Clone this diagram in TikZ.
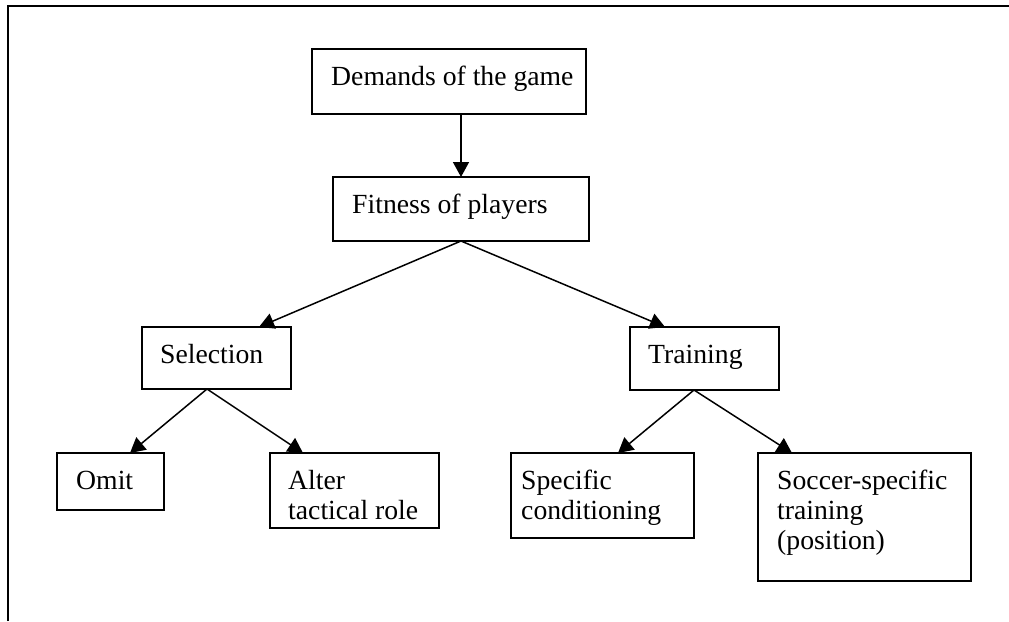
\documentclass[tikz,border=0pt]{standalone}
\usepackage{fontspec}
\setmainfont{Liberation Serif}
\usetikzlibrary{arrows.meta}
\tikzset{
  boxst/.style={draw=black, line width=1.5pt, inner sep=0pt, outer sep=0pt, anchor=north west},
  txt/.style={inner sep=0pt, anchor=base west, font=\fontsize{27.7}{30}\selectfont},
  conn/.style={line width=1.5pt, -{Triangle[length=15pt,width=16pt]}},
  frame/.style={line width=2pt}
}
% box: name, left, top, right, bottom, text x, text
\newcommand{\flowbox}[7]{%
  \node[boxst, minimum width=#4pt-#2pt, minimum height=#5pt-#3pt] (#1) at (#2,#3) {};
  \node[txt] (#1-t) at (#6,#3+36) {\begin{tabular}[t]{@{}l@{}}#7\end{tabular}};
}
\begin{document}
\begin{tikzpicture}[x=1pt,y=-1pt]
\useasboundingbox (0,0) rectangle (1009,621);
% open frame (top and left edges only)
\draw[frame] (8,621) -- (8,6) -- (1009,6);

\flowbox{dem}{312}{49}{586}{114}{331}{Demands of the game}
\flowbox{fit}{333}{177}{589}{241}{352}{Fitness of players}
\flowbox{sel}{142}{327}{291}{389}{160}{Selection}
\flowbox{trn}{630}{327}{779}{390}{648}{Training}
\flowbox{omit}{57}{453}{164}{510}{76}{Omit}
\flowbox{alt}{270}{453}{439}{528}{288}{Alter\\tactical role}
\flowbox{spc}{511}{453}{694}{538}{521}{Specific\\conditioning}
\flowbox{soc}{758}{453}{971}{581}{777}{Soccer-specific\\training\\(position)}

\draw[conn] ([xshift=149pt]dem.south west) -- (fit.north);
\draw[conn] (fit.south) -- ([xshift=117pt]sel.north west);
\draw[conn] (fit.south) -- ([xshift=35pt]trn.north west);
\draw[conn] ([xshift=65pt]sel.south west) -- ([xshift=73pt]omit.north west);
\draw[conn] ([xshift=65pt]sel.south west) -- ([xshift=33pt]alt.north west);
\draw[conn] ([xshift=64pt]trn.south west) -- ([xshift=107pt]spc.north west);
\draw[conn] ([xshift=64pt]trn.south west) -- ([xshift=34pt]soc.north west);
\end{tikzpicture}
\end{document}
